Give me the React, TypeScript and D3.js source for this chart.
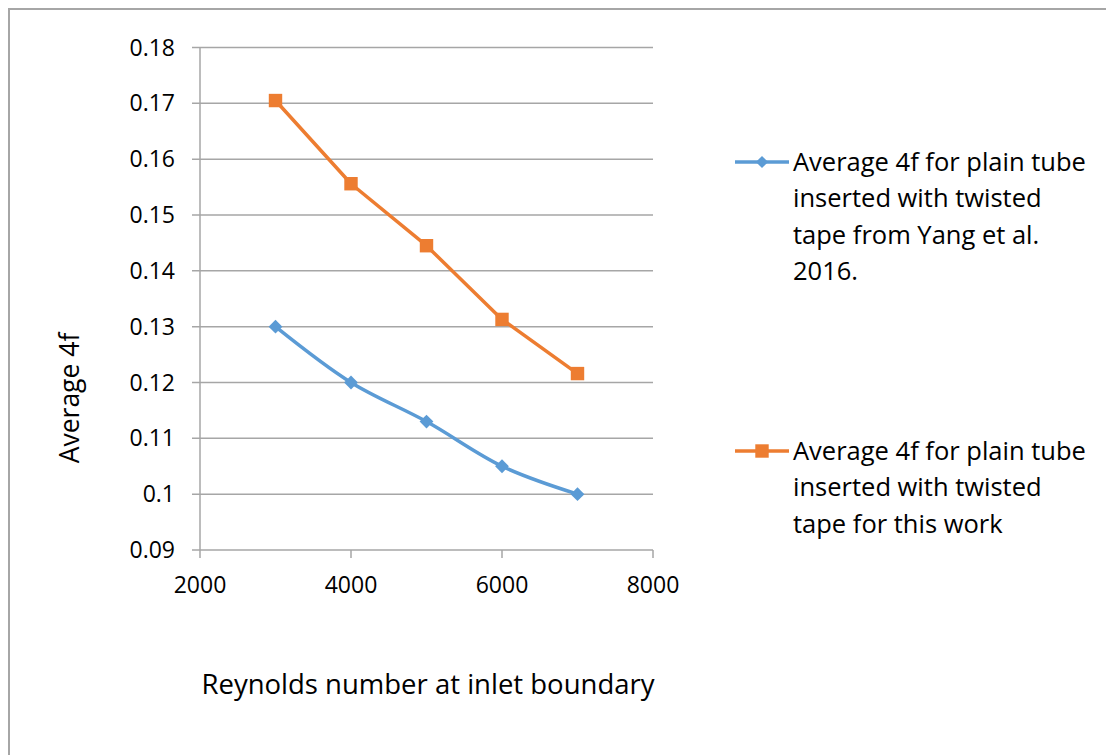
import * as d3 from "d3"
import { useRef, useEffect } from "react"

const reynolds = [3000, 4000, 5000, 6000, 7000]
const yangValues = [0.13, 0.12, 0.113, 0.105, 0.1]
const thisWorkValues = [0.1705, 0.1556, 0.1445, 0.1313, 0.1216]
const xTicks = [2000, 4000, 6000, 8000]
const yTicks = [0.09, 0.1, 0.11, 0.12, 0.13, 0.14, 0.15, 0.16, 0.17, 0.18]
const yangLabel = ["Average 4f for plain tube", "inserted with twisted", "tape from Yang et al.", "2016."]
const thisWorkLabel = ["Average 4f for plain tube", "inserted with twisted", "tape for this work"]

const App = () => {
  const svgRef = useRef<SVGSVGElement>(null)
  const width = 1106
  const height = 755
  const font = "'Open Sans', 'Noto Sans', sans-serif"

  useEffect(() => {
    const svg = d3.select(svgRef.current).attr("width", width).attr("height", height)
    svg.selectAll("*").remove()

    // outer frame, cut off at right and bottom
    svg
      .append("rect")
      .attr("x", 9)
      .attr("y", 9)
      .attr("width", width + 20)
      .attr("height", height + 20)
      .attr("fill", "white")
      .attr("stroke", "#a6a6a6")
      .attr("stroke-width", 2)

    const x = d3.scaleLinear().domain([2000, 8000]).range([200, 653])
    const y = d3.scaleLinear().domain([0.09, 0.18]).range([550, 47.5])

    // gridlines + y ticks
    svg
      .append("g")
      .selectAll("line")
      .data(yTicks)
      .join("line")
      .attr("x1", 192)
      .attr("x2", 653)
      .attr("y1", (d) => y(d))
      .attr("y2", (d) => y(d))
      .attr("stroke", "#a6a6a6")
      .attr("stroke-width", 1.5)

    svg
      .append("g")
      .selectAll("text")
      .data(yTicks)
      .join("text")
      .attr("x", 175)
      .attr("y", (d) => y(d))
      .attr("dy", "0.35em")
      .attr("text-anchor", "end")
      .attr("font-family", font)
      .attr("font-size", 23)
      .attr("fill", "#000")
      .text((d) => d3.format("")(+d.toFixed(2)))

    // y axis line
    svg
      .append("line")
      .attr("x1", 200)
      .attr("x2", 200)
      .attr("y1", y(0.18))
      .attr("y2", y(0.09))
      .attr("stroke", "#a6a6a6")
      .attr("stroke-width", 1.5)

    // x ticks
    svg
      .append("g")
      .selectAll("line")
      .data(xTicks)
      .join("line")
      .attr("x1", (d) => x(d))
      .attr("x2", (d) => x(d))
      .attr("y1", y(0.09))
      .attr("y2", y(0.09) + 8)
      .attr("stroke", "#a6a6a6")
      .attr("stroke-width", 1.5)

    svg
      .append("g")
      .selectAll("text")
      .data(xTicks)
      .join("text")
      .attr("x", (d) => x(d))
      .attr("y", 585)
      .attr("dy", "0.35em")
      .attr("text-anchor", "middle")
      .attr("font-family", font)
      .attr("font-size", 23)
      .attr("fill", "#000")
      .text((d) => d)

    // axis titles
    svg
      .append("text")
      .attr("transform", "translate(70, 398) rotate(-90)")
      .attr("text-anchor", "middle")
      .attr("dy", "0.35em")
      .attr("font-family", font)
      .attr("font-size", 26.5)
      .attr("fill", "#000")
      .text("Average 4f")

    svg
      .append("text")
      .attr("x", 428)
      .attr("y", 684)
      .attr("dy", "0.35em")
      .attr("text-anchor", "middle")
      .attr("font-family", font)
      .attr("font-size", 27.5)
      .attr("fill", "#000")
      .text("Reynolds number at inlet boundary")

    // lines
    const blue = "#5b9bd5"
    const orange = "#ed7d31"

    const smooth = d3
      .line<number>()
      .x((d, i) => x(reynolds[i]))
      .y((d) => y(d))
      .curve(d3.curveCatmullRom.alpha(0.5))
    const straight = d3
      .line<number>()
      .x((d, i) => x(reynolds[i]))
      .y((d) => y(d))

    svg
      .append("path")
      .attr("d", smooth(yangValues))
      .attr("fill", "none")
      .attr("stroke", blue)
      .attr("stroke-width", 3.5)
      .attr("stroke-linejoin", "round")

    svg
      .append("path")
      .attr("d", straight(thisWorkValues))
      .attr("fill", "none")
      .attr("stroke", orange)
      .attr("stroke-width", 3.5)
      .attr("stroke-linejoin", "round")

    const square = d3.symbol().type(d3.symbolSquare).size(180)
    const diamond = d3.symbol().type(d3.symbolSquare).size(95)

    svg
      .append("g")
      .selectAll("path")
      .data(yangValues)
      .join("path")
      .attr("transform", (d, i) => `translate(${x(reynolds[i])}, ${y(d)}) rotate(45)`)
      .attr("d", diamond())
      .attr("fill", blue)

    svg
      .append("g")
      .selectAll("path")
      .data(thisWorkValues)
      .join("path")
      .attr("transform", (d, i) => `translate(${x(reynolds[i])}, ${y(d)})`)
      .attr("d", square())
      .attr("fill", orange)

    // legend
    const legend = [
      { color: blue, lines: yangLabel, y: 162, marker: "diamond" },
      { color: orange, lines: thisWorkLabel, y: 451, marker: "square" },
    ]
    legend.forEach((item) => {
      const g = svg.append("g")
      g.append("line")
        .attr("x1", 735)
        .attr("x2", 789)
        .attr("y1", item.y)
        .attr("y2", item.y)
        .attr("stroke", item.color)
        .attr("stroke-width", 3.5)
      g.append("path")
        .attr(
          "transform",
          `translate(762, ${item.y})${item.marker === "diamond" ? " rotate(45)" : ""}`
        )
        .attr("d", item.marker === "diamond" ? d3.symbol().type(d3.symbolSquare).size(75)() : square())
        .attr("fill", item.color)
      g.selectAll("text")
        .data(item.lines)
        .join("text")
        .attr("x", 793)
        .attr("y", (d, i) => item.y + i * 36.5)
        .attr("dy", "0.35em")
        .attr("font-family", font)
        .attr("font-size", 25.5)
        .attr("fill", "#000")
        .text((d) => d)
    })
  }, [])

  return (
    <div style={{ position: "absolute", left: 0, top: 0 }}>
      <svg ref={svgRef} style={{ display: "block" }}></svg>
    </div>
  )
}

export default App
